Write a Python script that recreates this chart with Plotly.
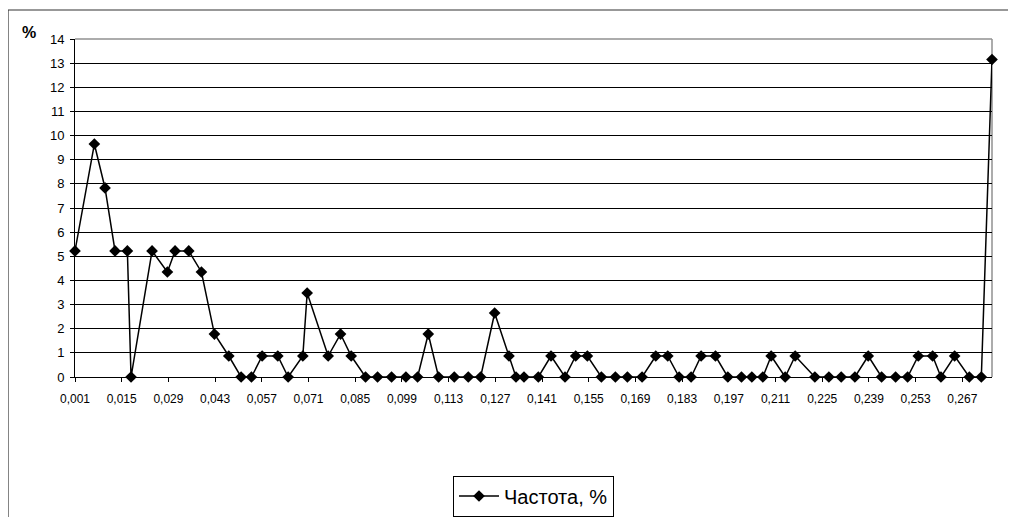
import plotly.graph_objects as go

# Data
x_values = [0.0010, 0.0068, 0.0100, 0.0130, 0.0167, 0.0178, 0.0241, 0.0287, 0.0310, 0.0351,
            0.0389, 0.0428, 0.0471, 0.0508, 0.0539, 0.0571, 0.0618, 0.0649, 0.0693, 0.0706,
            0.0769, 0.0806, 0.0838, 0.0881, 0.0917, 0.0959, 0.1002, 0.1037, 0.1069, 0.1100,
            0.1147, 0.1189, 0.1226, 0.1268, 0.1311, 0.1332, 0.1356, 0.1399, 0.1437, 0.1479,
            0.1511, 0.1546, 0.1588, 0.1630, 0.1666, 0.1710, 0.1751, 0.1787, 0.1821, 0.1857,
            0.1887, 0.1930, 0.1967, 0.2008, 0.2039, 0.2072, 0.2097, 0.2139, 0.2169, 0.2228,
            0.2270, 0.2307, 0.2348, 0.2388, 0.2428, 0.2470, 0.2506, 0.2538, 0.2581, 0.2606,
            0.2647, 0.2691, 0.2727, 0.2759]
freq_pct = [5.22, 9.65, 7.83, 5.22, 5.22, 0.0, 5.22, 4.35, 5.22, 5.22,
            4.35, 1.78, 0.87, 0.0, 0.0, 0.87, 0.87, 0.0, 0.87, 3.48,
            0.87, 1.78, 0.87, 0.0, 0.0, 0.0, 0.0, 0.0, 1.78, 0.0,
            0.0, 0.0, 0.0, 2.65, 0.87, 0.0, 0.0, 0.0, 0.87, 0.0,
            0.87, 0.87, 0.0, 0.0, 0.0, 0.0, 0.87, 0.87, 0.0, 0.0,
            0.87, 0.87, 0.0, 0.0, 0.0, 0.0, 0.87, 0.0, 0.87, 0.0,
            0.0, 0.0, 0.0, 0.87, 0.0, 0.0, 0.0, 0.87, 0.87, 0.0,
            0.87, 0.0, 0.0, 13.15]
x_tick_vals = [0.001, 0.015, 0.029, 0.043, 0.057, 0.071, 0.085, 0.099, 0.113, 0.127,
               0.141, 0.155, 0.169, 0.183, 0.197, 0.211, 0.225, 0.239, 0.253, 0.267]
x_tick_text = ["0,001", "0,015", "0,029", "0,043", "0,057", "0,071", "0,085", "0,099", "0,113", "0,127",
               "0,141", "0,155", "0,169", "0,183", "0,197", "0,211", "0,225", "0,239", "0,253", "0,267"]
series_name = "Частота, %"
y_label = "%"

FONT = "Liberation Sans, Arial, sans-serif"

fig = go.Figure()
fig.add_trace(go.Scatter(
    x=x_values, y=freq_pct, mode="lines+markers", name=series_name,
    line=dict(color="black", width=1.5),
    marker=dict(symbol="diamond", size=9, color="black"),
    cliponaxis=False,
))

W, H = 1016, 517
OFF = 8  # page body margin offset
# target plot area in screen pixels: x 75..992, y 39..377
L = 75 - OFF
R = W - (992 - OFF)
T = 39 - OFF
B = H - (377 - OFF)
pw, ph = W - L - R, H - T - B

def px_x(p):
    return (p - OFF - L) / pw

def px_y(p):
    return (H - B - (p - OFF)) / ph

fig.update_layout(
    width=W, height=H,
    margin=dict(l=L, r=R, t=T, b=B, autoexpand=False),
    paper_bgcolor="white", plot_bgcolor="white",
    font=dict(family=FONT, size=12, color="black"),
    showlegend=True,
    legend=dict(
        x=0.5, xanchor="center", y=px_y(496), yanchor="middle",
        bordercolor="black", borderwidth=1, bgcolor="white",
        font=dict(family=FONT, size=20, color="black"),
        itemwidth=40,
    ),
    xaxis=dict(
        range=[0.001, 0.2759],
        tickmode="array", tickvals=x_tick_vals, ticktext=x_tick_text,
        showgrid=False, zeroline=False,
        showline=True, linecolor="black", linewidth=1,
        ticks="outside", ticklen=4, tickcolor="black",
        ticklabelstandoff=7,
        tickfont=dict(family=FONT, size=12, color="black"),
    ),
    yaxis=dict(
        range=[0, 14], dtick=1, tick0=0,
        showgrid=True, gridcolor="black", gridwidth=1,
        zeroline=False,
        showline=True, linecolor="black", linewidth=1,
        ticks="outside", ticklen=4, tickcolor="black",
        ticklabelstandoff=3,
        tickfont=dict(family=FONT, size=13, color="black"),
    ),
    shapes=[
        dict(type="line", xref="paper", yref="paper", x0=0, x1=1, y0=1, y1=1,
             line=dict(color="#909090", width=1.5), layer="between"),
        dict(type="line", xref="paper", yref="paper", x0=1, x1=1, y0=0, y1=1,
             line=dict(color="#909090", width=1.5), layer="between"),
        dict(type="rect", xref="paper", yref="paper",
             x0=px_x(8), x1=px_x(1040), y0=px_y(540), y1=px_y(10),
             line=dict(color="#333333", width=1.2), fillcolor="rgba(0,0,0,0)", layer="below"),
    ],
    annotations=[
        dict(text="<b>" + y_label + "</b>", xref="paper", yref="paper",
             x=px_x(29), y=px_y(32), xanchor="center", yanchor="middle",
             showarrow=False, font=dict(family=FONT, size=16, color="black")),
    ],
)

fig.write_html("out.html")
